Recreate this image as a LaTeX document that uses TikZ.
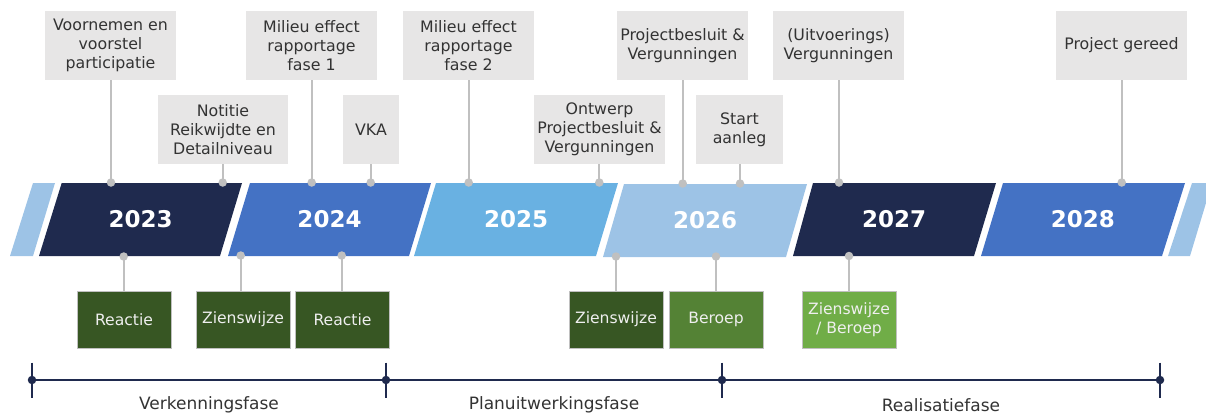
\documentclass[tikz,border=0pt]{standalone}
\usepackage{fontspec}
\setmainfont{DejaVu Sans}
\definecolor{navy}{HTML}{1F2A4E}
\definecolor{midblue}{HTML}{4472C4}
\definecolor{sky}{HTML}{69B1E2}
\definecolor{pale}{HTML}{9DC3E6}
\definecolor{boxgray}{HTML}{E7E6E6}
\definecolor{txtgray}{HTML}{333333}
\definecolor{conngray}{HTML}{C0C0C0}
\definecolor{gdark}{HTML}{375623}
\definecolor{gmid}{HTML}{548235}
\definecolor{glight}{HTML}{70AD47}
\definecolor{lighttxt}{HTML}{EFEFEF}
\definecolor{tlcol}{HTML}{1F2A4E}
\begin{document}
\begin{tikzpicture}[x=1pt,y=-1pt,
  callout/.style={fill=boxgray, text=txtgray, minimum height=69pt, inner sep=0pt, align=center, font=\fontsize{15.8}{19}\selectfont},
  greenbox/.style={minimum width=94pt, minimum height=57pt, inner sep=0pt, align=center, text=lighttxt, draw=conngray, line width=0.6pt, font=\fontsize{15.6}{19}\selectfont},
  conn/.style={draw=conngray, line width=2pt},
  gdot/.style={circle, fill=conngray, inner sep=0pt, minimum size=8.5pt},
  year/.style={text=white, font=\fontsize{23}{23}\selectfont\bfseries},
  tl/.style={draw=tlcol, line width=2.2pt},
  tdot/.style={circle, fill=tlcol, inner sep=0pt, minimum size=8.5pt},
  phase/.style={text=txtgray, font=\fontsize{17}{19}\selectfont},
]
\useasboundingbox (0,0) rectangle (1206,416);

% band
\fill[pale] (10,256) -- (33,256) -- (55,183) -- (33,183) -- cycle;
\fill[navy] (39,256) -- (220,256) -- (242,183) -- (61.7,183) -- cycle;
\fill[midblue] (228,256) -- (409,256) -- (431,183) -- (250,183) -- cycle;
\fill[sky] (414,256) -- (596,256) -- (618,183) -- (436,183) -- cycle;
\fill[pale] (603,257) -- (786,257) -- (807,184) -- (624,184) -- cycle;
\fill[navy] (793,256) -- (974,256) -- (996,183) -- (813,183) -- cycle;
\fill[midblue] (981,256) -- (1162,256) -- (1185,183) -- (1003,183) -- cycle;
\fill[pale] (1168,256) -- (1190,256) -- (1206,203) -- (1206,183) -- (1192,183) -- cycle;

\node[year] (y23) at (140.7,219.5) {2023};
\node[year] (y24) at (329.5,219.5) {2024};
\node[year] (y25) at (516,219.5) {2025};
\node[year] (y26) at (705,220.5) {2026};
\node[year] (y27) at (894,219.5) {2027};
\node[year] (y28) at (1082.8,219.5) {2028};

% top callouts
\node[callout, minimum width=131pt] (b1) at (110.5,45.5) {Voornemen en\\voorstel\\participatie};
\node[callout, minimum width=130pt] (b2) at (223,129.5) {Notitie\\Reikwijdte en\\Detailniveau};
\node[callout, minimum width=131pt] (b3) at (311.5,45.5) {Milieu effect\\rapportage\\fase 1};
\node[callout, minimum width=56pt] (b4) at (371,129.5) {VKA};
\node[callout, minimum width=131pt] (b5) at (468.5,45.5) {Milieu effect\\rapportage\\fase 2};
\node[callout, minimum width=131pt] (b6) at (599.5,129.5) {Ontwerp\\Projectbesluit \&\\Vergunningen};
\node[callout, minimum width=131pt] (b7) at (682.5,45.5) {Projectbesluit \&\\Vergunningen};
\node[callout, minimum width=87pt] (b8) at (739.5,129.5) {Start\\aanleg};
\node[callout, minimum width=131pt] (b9) at (838.5,45.5) {(Uitvoerings)\\Vergunningen};
\node[callout, minimum width=131pt] (b10) at (1121.5,45.5) {Project gereed};

\node[gdot] (d1) at (111,182.5) {};
\node[gdot] (d2) at (222.7,182.5) {};
\node[gdot] (d3) at (311.7,182.5) {};
\node[gdot] (d4) at (370.7,182.5) {};
\node[gdot] (d5) at (468.7,182.5) {};
\node[gdot] (d6) at (599.3,182.5) {};
\node[gdot] (d7) at (682.7,183.5) {};
\node[gdot] (d8) at (740,183.5) {};
\node[gdot] (d9) at (839,182.5) {};
\node[gdot] (d10) at (1121.7,182.5) {};
\foreach \i in {1,...,10}{\draw[conn] (d\i.center) -- (d\i |- b\i.south);}

% bottom boxes
\node[greenbox, fill=gdark] (g1) at (124,319.5) {Reactie};
\node[greenbox, fill=gdark] (g2) at (243,319.5) {Zienswijze};
\node[greenbox, fill=gdark] (g3) at (342.5,319.5) {Reactie};
\node[greenbox, fill=gdark] (g4) at (616,319.5) {Zienswijze};
\node[greenbox, fill=gmid] (g5) at (716,319.5) {Beroep};
\node[greenbox, fill=glight] (g6) at (849,319.5) {Zienswijze\\/ Beroep};

\node[gdot] (e1) at (123.7,256.5) {};
\node[gdot] (e2) at (240.7,255.5) {};
\node[gdot] (e3) at (341.7,255.5) {};
\node[gdot] (e4) at (616,256.5) {};
\node[gdot] (e5) at (716,256.5) {};
\node[gdot] (e6) at (849,256) {};
\foreach \i in {1,...,6}{\draw[conn] (e\i.center) -- (e\i |- g\i.north);}

% timeline
\coordinate (t1) at (32,380);
\coordinate (t2) at (386,380);
\coordinate (t3) at (722,380);
\coordinate (t4) at (1160,380);
\draw[tl] (t1) -- (t4);
\foreach \t in {t1,t2,t3,t4}{
  \draw[tl, line width=2.4pt] (\t) ++(0,-17.5) -- ++(0,35);
  \node[tdot] at (\t) {};
}
\node[phase] (p1) at (209,405) {Verkenningsfase};
\node[phase] (p2) at (554,405) {Planuitwerkingsfase};
\node[phase] (p3) at (941,405) {Realisatiefase};
\end{tikzpicture}
\end{document}
